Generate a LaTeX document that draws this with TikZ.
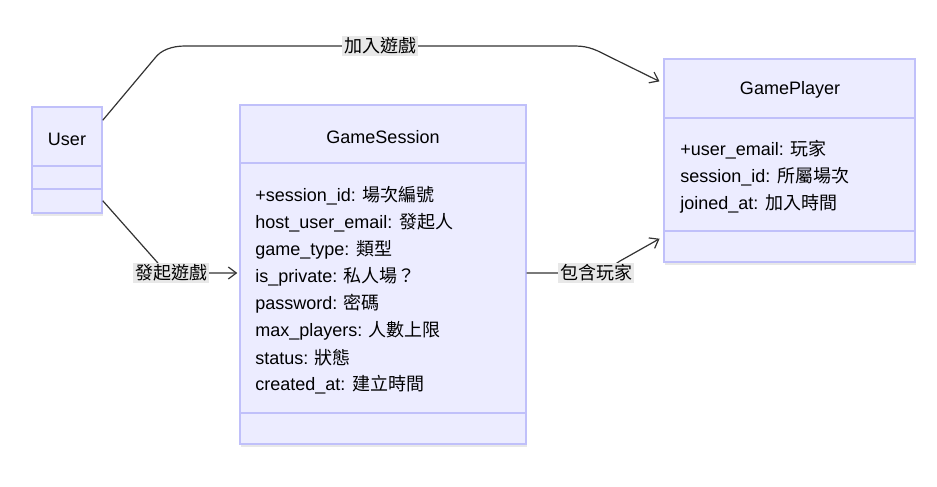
\documentclass[tikz,border=0pt]{standalone}
\usepackage{fontspec}
\setmainfont{Liberation Sans}
\newfontfamily\cjk{Noto Sans CJK TC}
\newcommand{\zh}[1]{{\cjk #1}}
\usetikzlibrary{arrows.meta, positioning, calc, fit, shadows}
\definecolor{classfill}{HTML}{ECECFF}
\definecolor{classborder}{HTML}{C0C0FA}
\definecolor{edgecolor}{HTML}{333333}
\definecolor{labelfill}{HTML}{E8E8E8}

\begin{document}
\begin{tikzpicture}[x=0.75pt, y=-0.75pt,
            font=\fontsize{13.5}{16}\selectfont,
            class box/.style={draw=classborder, line width=1.1pt, fill=classfill, inner sep=0pt,
                drop shadow={shadow xshift=1pt, shadow yshift=-2pt, opacity=0.18}},
            class line/.style={draw=classborder, line width=1.1pt},
            class attr/.style={anchor=west, inner sep=0pt},
            edge/.style={draw=edgecolor, line width=0.9pt, shorten >=1.5pt,
                -{Straight Barb[length=6pt, width=9pt]}},
            edge label/.style={fill=labelfill, inner sep=1.5pt, text=black}]

            \useasboundingbox (0,0) rectangle (937,486);

            % Classes
            \node[class box, fit={(32,107) (102,213)}] (user) {};
            \node[class box, fit={(240,105) (526,444)}] (session) {};
            \node[class box, fit={(664,59) (915,262)}] (player) {};

            \draw[class line] (user.west |- 0,166) -- (user.east |- 0,166);
            \draw[class line] (user.west |- 0,189) -- (user.east |- 0,189);
            \draw[class line] (session.west |- 0,163) -- (session.east |- 0,163);
            \draw[class line] (session.west |- 0,413) -- (session.east |- 0,413);
            \draw[class line] (player.west |- 0,118) -- (player.east |- 0,118);
            \draw[class line] (player.west |- 0,231) -- (player.east |- 0,231);

            \node (user title) at (67,139) {User};
            \node (session title) at (383,137) {GameSession};
            \node (player title) at (790,90) {GamePlayer};

            % Attributes
            \foreach \attr [count=\i] in {+session\_id: \zh{場次編號}, host\_user\_email: \zh{發起人},
                    game\_type: \zh{類型}, is\_private: \zh{私人場？}, password: \zh{密碼},
                    max\_players: \zh{人數上限}, status: \zh{狀態}, created\_at: \zh{建立時間}} {
                \node[class attr] (session attr \i) at (255,169+27*\i) {\attr};
            }
            \foreach \attr [count=\i] in {+user\_email: \zh{玩家}, session\_id: \zh{所屬場次},
                    joined\_at: \zh{加入時間}} {
                \node[class attr] (player attr \i) at (680,123+27*\i) {\attr};
            }

            % Relations
            \draw[edge] ($(user.north east)+(0,14)$) -- (155,58) .. controls (161,50) and (172,46) .. (185,46)
                -- node[edge label] {\zh{加入遊戲}} (575,46) .. controls (590,46) and (598,51) .. (610,57)
                -- ($(player.north west)+(-2,24)$);
            \draw[edge] ($(user.south east)+(0,-13)$) -- (157,262) .. controls (162,268) and (166,273) .. (171,273)
                node[edge label] {\zh{發起遊戲}} -- (session.west |- 0,273);
            \draw[edge] (session.east |- 0,273) -- (596,273) node[edge label] {\zh{包含玩家}}
                .. controls (606,273) and (612,266) .. (620,261) -- ($(player.south west)+(-2,-25)$);
        \end{tikzpicture}
\end{document}
